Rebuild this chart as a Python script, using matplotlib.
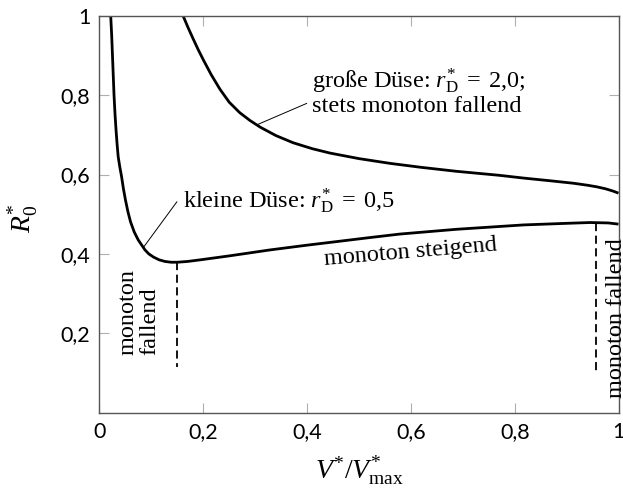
import numpy as np
import matplotlib
matplotlib.use("Agg")
import matplotlib.pyplot as plt

plt.rcParams['font.family'] = ['Liberation Serif', 'DejaVu Serif']
plt.rcParams['mathtext.fontset'] = 'custom'
plt.rcParams['mathtext.rm'] = 'Liberation Serif'
plt.rcParams['mathtext.it'] = 'Liberation Serif:italic'
plt.rcParams['mathtext.bf'] = 'Liberation Serif:bold'

# kleine Duese r_D* = 0,5
x_small = [0.0216, 0.0235, 0.025, 0.0265, 0.028, 0.030, 0.032, 0.034, 0.036, 0.039,
           0.0425, 0.046, 0.050, 0.055, 0.060, 0.067, 0.0747, 0.0877, 0.095, 0.104,
           0.115, 0.126, 0.138, 0.150, 0.170, 0.194, 0.250, 0.3285, 0.400, 0.457,
           0.520, 0.579, 0.688, 0.817, 0.900, 0.945, 0.980, 1.0]
y_small = [1.0, 0.95, 0.90, 0.85, 0.80, 0.75, 0.71, 0.675, 0.645, 0.620,
           0.595, 0.565, 0.536, 0.505, 0.480, 0.455, 0.435, 0.410, 0.400, 0.392,
           0.385, 0.381, 0.379, 0.379, 0.381, 0.385, 0.395, 0.410, 0.422, 0.431,
           0.441, 0.450, 0.462, 0.473, 0.477, 0.479, 0.478, 0.475]

# grosse Duese r_D* = 2,0
x_large = [0.161, 0.170, 0.180, 0.190, 0.200, 0.215, 0.232, 0.250, 0.270, 0.290,
           0.310, 0.340, 0.373, 0.410, 0.444, 0.500, 0.560, 0.620, 0.688, 0.770,
           0.817, 0.870, 0.913, 0.940, 0.958, 0.975, 0.990, 1.0]
y_large = [1.0, 0.972, 0.943, 0.915, 0.889, 0.852, 0.815, 0.782, 0.756, 0.736,
           0.719, 0.698, 0.680, 0.665, 0.654, 0.640, 0.628, 0.618, 0.608, 0.598,
           0.591, 0.584, 0.578, 0.573, 0.569, 0.564, 0.558, 0.553]

# Grenzen der Bereiche (gestrichelt)
x_min_small = 0.150
y_min_small = 0.379
x_max_small = 0.957
y_max_small = 0.477

x_ticks = [0, 0.2, 0.4, 0.6, 0.8, 1.0]
x_ticklabels = ['0', '0,2', '0,4', '0,6', '0,8', '1']
y_ticks = [0.2, 0.4, 0.6, 0.8, 1.0]
y_ticklabels = ['0,2', '0,4', '0,6', '0,8', '1']

fig = plt.figure(figsize=(6.23, 4.94), dpi=100)
ax = fig.add_axes([0.1597, 0.1646, 0.8331, 0.8036])

ax.plot(x_small, y_small, color='black', lw=2.0, solid_capstyle='butt',
        solid_joinstyle='round')
ax.plot(x_large, y_large, color='black', lw=2.0, solid_capstyle='butt',
        solid_joinstyle='round')

ax.plot([x_min_small, x_min_small], [y_min_small, 0.116], color='black', lw=1.3,
        linestyle=(0, (4.5, 2.5)))
ax.plot([x_max_small, x_max_small], [y_max_small, 0.10], color='black', lw=1.3,
        linestyle=(0, (4.5, 2.5)))

# Beschriftungen mit Hinweislinien
ax.plot([0.0844, 0.149], [0.416, 0.531], color='black', lw=0.7)
ax.plot([0.303, 0.399], [0.725, 0.779], color='black', lw=0.7)

fs = 17.5
ax.text(0.161, 0.515, r'kleine Düse: $r_{\mathrm{D}}^{*}\;=\;0{,}5$', fontsize=fs,
        ha='left', va='baseline')
ax.text(0.409, 0.818, r'große Düse: $r_{\mathrm{D}}^{*}\;=\;2{,}0$;', fontsize=fs,
        ha='left', va='baseline')
ax.text(0.409, 0.757, 'stets monoton fallend', fontsize=fs, ha='left', va='baseline')
ax.text(0.600, 0.405, 'monoton steigend', fontsize=fs, ha='center', va='center',
        rotation=4.8, rotation_mode='anchor')
ax.text(0.076, 0.254, 'monoton\nfallend', fontsize=fs, ha='center', va='center',
        rotation=90, multialignment='left', linespacing=1.0)
ax.text(0.997, 0.037, 'monoton fallend', fontsize=fs, ha='center', va='bottom',
        rotation=90, clip_on=False)

ax.set_xlim(0, 1)
ax.set_ylim(0, 1)
ax.set_xticks(x_ticks)
ax.set_xticklabels(x_ticklabels, family='Lato')
ax.set_yticks(y_ticks)
ax.set_yticklabels(y_ticklabels, family='Lato')
ax.tick_params(direction='in', length=7, width=0.8, color='#b0b0b0',
               labelsize=15.5, top=True, right=True, pad=6.5)

for sp in ax.spines.values():
    sp.set_color('#555555')
    sp.set_linewidth(1.0)

ax.set_xlabel(r'$V^{*}/V^{*}_{\mathrm{max}}$', fontsize=20)
ax.set_ylabel(r'$R_{0}^{*}$', fontsize=20)
ax.xaxis.set_label_coords(0.5, -0.105)
ax.yaxis.set_label_coords(-0.115, 0.49)

fig.savefig('out.png', dpi=100)
